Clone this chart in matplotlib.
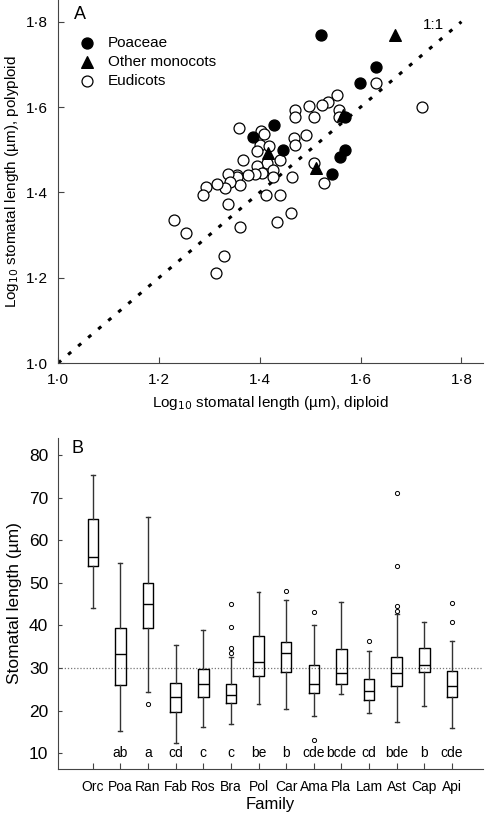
import matplotlib
matplotlib.use("Agg")
import matplotlib.pyplot as plt
from matplotlib.ticker import FuncFormatter

plt.rcParams["font.family"] = ["Liberation Sans", "DejaVu Sans"]

# ─── panel A: log10 stomatal length, diploid vs polyploid ───────────────────
poa_x = [1.522, 1.631, 1.599, 1.428, 1.387, 1.446, 1.570, 1.560, 1.544, 1.570]
poa_y = [1.770, 1.694, 1.657, 1.558, 1.529, 1.500, 1.500, 1.482, 1.443, 1.576]

mono_x = [1.668, 1.566, 1.417, 1.512]
mono_y = [1.770, 1.582, 1.492, 1.457]

eud_x = [1.722, 1.631, 1.553, 1.535, 1.523, 1.498, 1.470, 1.470, 1.507, 1.558,
         1.558, 1.491, 1.467, 1.470, 1.358, 1.403, 1.409, 1.401, 1.419, 1.394,
         1.414, 1.394, 1.366, 1.440, 1.427, 1.427, 1.404, 1.391, 1.377, 1.354,
         1.354, 1.338, 1.361, 1.340, 1.331, 1.315, 1.293, 1.288, 1.338, 1.361,
         1.413, 1.440, 1.464, 1.435, 1.462, 1.508, 1.528, 1.230, 1.253, 1.329,
         1.313]
eud_y = [1.600, 1.657, 1.628, 1.613, 1.605, 1.603, 1.592, 1.576, 1.576, 1.593,
         1.576, 1.535, 1.527, 1.511, 1.550, 1.545, 1.537, 1.511, 1.509, 1.498,
         1.468, 1.463, 1.475, 1.475, 1.453, 1.437, 1.445, 1.443, 1.440, 1.441,
         1.435, 1.443, 1.418, 1.424, 1.410, 1.420, 1.412, 1.393, 1.373, 1.320,
         1.394, 1.394, 1.437, 1.331, 1.351, 1.470, 1.423, 1.336, 1.304, 1.250,
         1.211]

# ─── panel B: stomatal length by family ─────────────────────────────────────
families = ["Orc", "Poa", "Ran", "Fab", "Ros", "Bra", "Pol", "Car", "Ama",
            "Pla", "Lam", "Ast", "Cap", "Api"]
whislo = [44.0, 15.2, 24.3, 12.5, 16.1, 16.9, 21.6, 20.3, 18.8, 23.9, 19.5, 17.4, 21.2, 16.0]
q1     = [54.0, 25.9, 39.3, 19.6, 23.3, 21.7, 28.1, 29.0, 24.2, 26.3, 22.4, 25.8, 29.0, 23.1]
med    = [56.1, 33.3, 45.0, 23.3, 26.2, 23.7, 31.4, 33.5, 26.3, 28.9, 24.6, 28.8, 30.6, 25.8]
q3     = [65.1, 39.3, 50.0, 26.6, 29.7, 26.2, 37.6, 36.0, 30.6, 34.5, 27.4, 32.5, 34.8, 29.4]
whishi = [75.3, 54.6, 65.5, 35.4, 38.9, 32.5, 47.8, 46.0, 40.0, 45.4, 33.9, 42.7, 40.9, 36.4]
fliers = [[], [], [21.6], [], [], [45.0, 39.6, 34.6, 33.6], [], [48.1],
          [43.1, 13.1], [], [36.4], [71.2, 54.0, 44.6, 43.5], [], [45.2, 40.9]]
letters = ["", "ab", "a", "cd", "c", "c", "be", "b", "cde", "bcde", "cd",
           "bde", "b", "cde"]

fig = plt.figure(figsize=(4.88, 8.14), dpi=100)

# ── A ──
axA = fig.add_axes([0.119, 0.554, 0.871, 0.446])
axA.plot([1.0, 1.8], [1.0, 1.8], color="black", lw=2.2,
         linestyle=(0, (1.3, 3.0)), zorder=1)
axA.scatter(eud_x, eud_y, s=62, facecolor="white", edgecolor="black",
            lw=0.9, zorder=2, label="Eudicots")
axA.scatter(poa_x, poa_y, s=62, facecolor="black", edgecolor="black",
            zorder=3, label="Poaceae")
axA.scatter(mono_x, mono_y, s=70, marker="^", facecolor="black",
            edgecolor="black", zorder=3, label="Other monocots")
axA.text(1.765, 1.792, "1:1", ha="right", va="center", fontsize=11)
axA.text(1.043, 1.818, "A", ha="center", va="center", fontsize=13)

handles, labels = axA.get_legend_handles_labels()
order = [1, 2, 0]
axA.legend([handles[i] for i in order], [labels[i] for i in order],
           loc="upper left", bbox_to_anchor=(0.031, 0.918), frameon=False,
           fontsize=11, handletextpad=0.8, labelspacing=0.33,
           borderaxespad=0, handlelength=1.2)

axA.set_xlim(1.0, 1.843)
axA.set_ylim(1.0, 1.851)
dotfmt = FuncFormatter(lambda v, p: f"{v:.1f}".replace(".", "\u00b7"))
axA.set_xticks([1.0, 1.2, 1.4, 1.6, 1.8])
axA.set_yticks([1.0, 1.2, 1.4, 1.6, 1.8])
axA.xaxis.set_major_formatter(dotfmt)
axA.yaxis.set_major_formatter(dotfmt)
axA.tick_params(direction="in", length=4, width=0.8, labelsize=11, color="#444")
axA.tick_params(axis="x", pad=7)
axA.tick_params(axis="y", pad=7.5)
for s in ["top", "right"]:
    axA.spines[s].set_visible(False)
for s in ["left", "bottom"]:
    axA.spines[s].set_color("#444")
axA.set_xlabel("Log$_{10}$ stomatal length (\u00b5m), diploid", fontsize=11,
               labelpad=5)
axA.set_ylabel("Log$_{10}$ stomatal length (\u00b5m), polyploid", fontsize=11,
               labelpad=3)

# ── B ──
axB = fig.add_axes([0.119, 0.0553, 0.871, 0.4066])
stats = []
for i in range(len(families)):
    stats.append(dict(whislo=whislo[i], q1=q1[i], med=med[i], q3=q3[i],
                      whishi=whishi[i], fliers=fliers[i], label=families[i]))
axB.axhline(30, color="#777", lw=0.9, linestyle=(0, (1, 1.5)), zorder=0)
axB.bxp(stats, positions=range(len(families)), widths=0.38,
        boxprops=dict(color="black", lw=1.0),
        medianprops=dict(color="black", lw=1.0),
        whiskerprops=dict(color="#333", lw=1.0),
        capprops=dict(color="#333", lw=1.0),
        capwidths=0.14,
        flierprops=dict(marker="o", markersize=3, markerfacecolor="none",
                        markeredgecolor="black", markeredgewidth=0.7))
for i, t in enumerate(letters):
    axB.text(i, 10, t, ha="center", va="center", fontsize=10)
axB.text(-0.55, 81.6, "B", ha="center", va="center", fontsize=13)

axB.set_xlim(-1.257, 14.13)
axB.set_ylim(6.3, 84)
axB.set_xticks(range(len(families)))
axB.set_xticklabels(families)
axB.set_yticks([10, 20, 30, 40, 50, 60, 70, 80])
axB.tick_params(axis="y", direction="in", length=3, width=0.8, labelsize=12.5,
                color="#444", pad=7)
axB.tick_params(axis="x", direction="in", length=4, width=0.8, labelsize=10,
                color="#444", pad=8)
for s in ["top", "right"]:
    axB.spines[s].set_visible(False)
for s in ["left", "bottom"]:
    axB.spines[s].set_color("#444")
axB.set_xlabel("Family", fontsize=12, labelpad=2)
axB.set_ylabel("Stomatal length (\u00b5m)", fontsize=12.5, labelpad=5)

fig.savefig("out.png", dpi=100)
